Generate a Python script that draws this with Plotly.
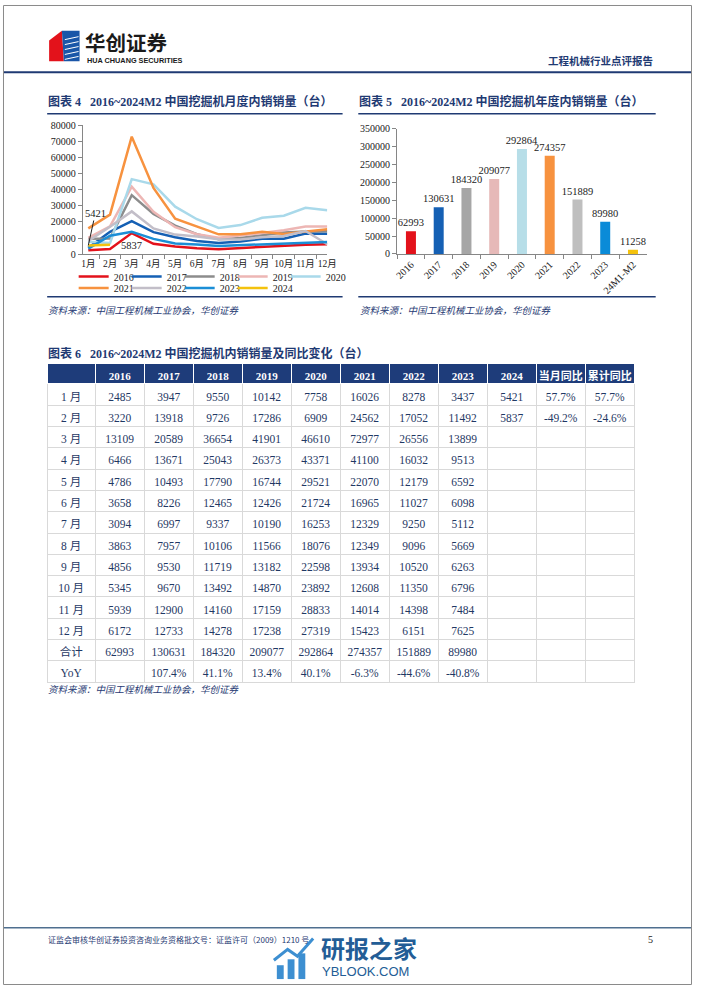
import plotly.graph_objects as go

W, H = 702, 991


def px(x):
    return x / W


def py(y):
    return 1 - y / H


# ---------------- data ----------------
months = ["1月", "2月", "3月", "4月", "5月", "6月", "7月", "8月", "9月", "10月", "11月", "12月"]
years = ["2016", "2017", "2018", "2019", "2020", "2021", "2022", "2023", "2024"]

sales_2016 = [2485, 3220, 13109, 6466, 4786, 3658, 3094, 3863, 4856, 5345, 5939, 6172]
sales_2017 = [3947, 13918, 20589, 13671, 10493, 8226, 6997, 7957, 9530, 9670, 12900, 12733]
sales_2018 = [9550, 9726, 36654, 25043, 17790, 12465, 9337, 10106, 11719, 13492, 14160, 14278]
sales_2019 = [10142, 17286, 41901, 26373, 16744, 12426, 10190, 11566, 13182, 14870, 17159, 17238]
sales_2020 = [7758, 6909, 46610, 43371, 29521, 21724, 16253, 18076, 22598, 23892, 28833, 27319]
sales_2021 = [16026, 24562, 72977, 41100, 22070, 16965, 12329, 12349, 13934, 12608, 14014, 15423]
sales_2022 = [8278, 17052, 26556, 16032, 12179, 11027, 9250, 9096, 10520, 11350, 14398, 6151]
sales_2023 = [3437, 11492, 13899, 9513, 6592, 6098, 5112, 5669, 6263, 6796, 7484, 7625]
sales_2024 = [5421, 5837]

annual_totals = [62993, 130631, 184320, 209077, 292864, 274357, 151889, 89980]
yoy_labels = ["", "107.4%", "41.1%", "13.4%", "40.1%", "-6.3%", "-44.6%", "-40.8%"]
month_yoy_2024 = ["57.7%", "-49.2%"]
cum_yoy_2024 = ["57.7%", "-24.6%"]

bar_categories = ["2016", "2017", "2018", "2019", "2020", "2021", "2022", "2023", "24M1-M2"]
bar_values = [62993, 130631, 184320, 209077, 292864, 274357, 151889, 89980, 11258]

row_labels = ["1 月", "2 月", "3 月", "4 月", "5 月", "6 月", "7 月", "8 月", "9 月",
              "10 月", "11 月", "12 月", "合计", "YoY"]

# ---------------- styles ----------------
line_colors = ["#E3121B", "#1560B4", "#8C8C8C", "#EDB6B4", "#A9D9EA",
               "#F7923F", "#C2BEC8", "#1B8ED6", "#F4C20D"]
bar_colors = ["#E3121B", "#1560B4", "#A6A6A6", "#E6B9B8", "#B7DEE8",
              "#F7923F", "#BFBFBF", "#0A8BD8", "#F4C20D"]
NAVY = "#1F3A73"
SERIF = "Liberation Serif, Noto Sans CJK SC"
CJK = "Noto Sans CJK SC"
AX = "#868686"

fig = go.Figure()

series = [sales_2016, sales_2017, sales_2018, sales_2019, sales_2020,
          sales_2021, sales_2022, sales_2023, sales_2024]
for i, (name, vals) in enumerate(zip(years, series)):
    fig.add_trace(go.Scatter(
        x=months[:len(vals)], y=vals, mode="lines", name=name,
        line=dict(color=line_colors[i], width=2.5),
        xaxis="x", yaxis="y", legend="legend" if i < 5 else "legend2",
        hoverinfo="skip"))
# blank spacer entries so the last legend labels are not clipped
for lg in ["legend", "legend2"]:
    fig.add_trace(go.Scatter(x=[None], y=[None], mode="lines", name=" ",
                             line=dict(color="rgba(0,0,0,0)", width=0),
                             xaxis="x", yaxis="y", legend=lg, hoverinfo="skip"))

fig.add_trace(go.Bar(
    x=bar_categories, y=bar_values, marker=dict(color=bar_colors, line=dict(width=0)),
    text=[str(v) for v in bar_values], textposition="outside", constraintext="none",
    textfont=dict(family=SERIF, size=10.5, color="#222"), cliponaxis=False,
    xaxis="x2", yaxis="y2", showlegend=False, hoverinfo="skip"))

# ---------------- table ----------------
table_cols = [row_labels]
for vals, tot, yoy in zip(series[:8], annual_totals, yoy_labels):
    table_cols.append([str(v) for v in vals] + [str(tot), yoy])
table_cols.append([str(v) for v in sales_2024] + [""] * 12)
table_cols.append(month_yoy_2024 + [""] * 12)
table_cols.append(cum_yoy_2024 + [""] * 12)

header_vals = [""] + years + ["当月同比", "累计同比"]
fig.add_trace(go.Table(
    domain=dict(x=[px(45), px(644)], y=[py(720), py(363)]),
    columnwidth=[49] + [50] * 11,
    header=dict(values=header_vals, fill_color="#1E3C7A", line=dict(color="white", width=1),
                font=dict(family=SERIF, size=11, color="white", weight="bold"), height=20, align="center"),
    cells=dict(values=table_cols, fill_color="white", line=dict(color="#D9D9D9", width=1),
               font=dict(family=SERIF, size=11.5, color="#1F3864"), height=21.3, align="center"),
))

# ---------------- layout ----------------
axis_common = dict(showline=True, linecolor=AX, linewidth=1, ticks="outside", tickcolor=AX,
                   ticklen=4, showgrid=False, zeroline=False)
tf = dict(family=SERIF, size=10, color="#222")

fig.update_layout(
    autosize=True, margin=dict(l=0, r=0, t=0, b=0, pad=0),
    paper_bgcolor="white", plot_bgcolor="white",
    xaxis=dict(domain=[px(81.3), px(330.4)], anchor="y", type="category", tickson="boundaries",
               tickangle=0, tickfont=dict(family=SERIF, size=9.5, color="#222"), **axis_common),
    yaxis=dict(domain=[py(252), py(121.7)], anchor="x", range=[0, 80000], dtick=10000, tickformat="d",
               tickfont=tf, **axis_common),
    xaxis2=dict(domain=[px(401.5), px(656)], anchor="y2", type="category", tickson="boundaries",
                tickangle=-45, tickfont=tf, **axis_common),
    yaxis2=dict(domain=[py(251.7), py(125)], anchor="x2", range=[0, 350000], dtick=50000, tickformat="d",
                tickfont=tf, **axis_common),
    bargap=0.64,
    legend=dict(orientation="h", x=px(72), y=py(260), xanchor="left", yanchor="top",
                entrywidth=8, entrywidthmode="pixels", bgcolor="rgba(0,0,0,0)",
                font=dict(family=SERIF, size=10, color="#222"), tracegroupgap=0),
    legend2=dict(orientation="h", x=px(72), y=py(271.5), xanchor="left", yanchor="top",
                 entrywidth=8, entrywidthmode="pixels", bgcolor="rgba(0,0,0,0)",
                 font=dict(family=SERIF, size=10, color="#222"), tracegroupgap=0),
    showlegend=True,
)

shapes = []
# page border
shapes.append(dict(type="rect", xref="paper", yref="paper", x0=px(0.5), x1=px(701.5), y0=py(990.5), y1=py(0.5),
                   line=dict(color="#8A8A8A", width=1)))
# header line
shapes.append(dict(type="line", xref="paper", yref="paper", x0=px(1), x1=px(701), y0=py(68), y1=py(68),
                   line=dict(color=NAVY, width=2)))
# chart frame lines
for x0, x1 in [(45, 346), (362, 665)]:
    shapes.append(dict(type="line", xref="paper", yref="paper", x0=px(x0), x1=px(x1), y0=py(110), y1=py(110),
                       line=dict(color=NAVY, width=1.5)))
    shapes.append(dict(type="line", xref="paper", yref="paper", x0=px(x0), x1=px(x1), y0=py(295), y1=py(295),
                       line=dict(color=NAVY, width=1.5)))
# footer line
shapes.append(dict(type="line", xref="paper", yref="paper", x0=px(1), x1=px(701), y0=py(933), y1=py(933),
                   line=dict(color="#4F6F8F", width=1.5)))
# logo icon
shapes.append(dict(type="path", xref="paper", yref="paper",
                   path="M %f %f L %f %f L %f %f L %f %f Z" % (px(47), py(36), px(60), py(26), px(62), py(57), px(47), py(57)),
                   fillcolor="#E3121B", line=dict(width=0)))
shapes.append(dict(type="path", xref="paper", yref="paper",
                   path="M %f %f L %f %f L %f %f L %f %f Z" % (px(60), py(26), px(78), py(26), px(78), py(57), px(62), py(57)),
                   fillcolor="#1A56A8", line=dict(width=0)))
for k in range(5):
    yy = 32 + k * 5
    shapes.append(dict(type="line", xref="paper", yref="paper", x0=px(63), x1=px(77), y0=py(yy + 3), y1=py(yy),
                       line=dict(color="white", width=1)))
# watermark icon
for k, (hh) in enumerate([14, 20, 26]):
    xx = 279 + k * 11
    shapes.append(dict(type="rect", xref="paper", yref="paper", x0=px(xx), x1=px(xx + 7), y0=py(985), y1=py(985 - hh),
                       fillcolor="#3D8FD1", line=dict(width=0)))
shapes.append(dict(type="path", xref="paper", yref="paper",
                   path="M %f %f L %f %f L %f %f L %f %f" % (px(276), py(966), px(290), py(955), px(300), py(962), px(316), py(944)),
                   line=dict(color="#3D8FD1", width=3)))
fig.update_layout(shapes=shapes)

ann = []


def text(x, y, s, size, color, family=CJK, xanchor="left", yanchor="middle"):
    ann.append(dict(xref="paper", yref="paper", x=px(x), y=py(y), text=s, showarrow=False,
                    font=dict(family=family, size=size, color=color), xanchor=xanchor, yanchor=yanchor))


text(82, 37, "<b>华创证券</b>", 20.5, "#1A1A1A")
text(84, 56, "<b>HUA CHUANG SECURITIES</b>", 7.3, "#1A1A1A", family="Liberation Sans")
text(664, 56, "<b>工程机械行业点评报告</b>", 10.5, NAVY, xanchor="right")
text(44, 98, "<b>图表 4   2016~2024M2 中国挖掘机月度内销销量（台）</b>", 12, NAVY, family=SERIF)
text(361, 98, "<b>图表 5   2016~2024M2 中国挖掘机年度内销销量（台）</b>", 12, NAVY, family=SERIF)
text(44, 352, "<b>图表 6   2016~2024M2 中国挖掘机内销销量及同比变化（台）</b>", 12, NAVY, family=SERIF)
src = "<i>资料来源：中国工程机械工业协会，华创证券</i>"
text(44, 308, src, 9.5, NAVY)
text(362, 308, src, 9.5, NAVY)
text(44, 692, src, 9.5, NAVY)
text(44, 945, "证监会审核华创证券投资咨询业务资格批文号：证监许可（2009）1210 号", 8, NAVY)
text(664, 945, "5", 10, "#222", family=SERIF, xanchor="right")
text(322, 953, "<b>研报之家</b>", 24, "#235D96")
text(323, 977, "YBLOOK.COM", 13, "#235D96", family="Liberation Sans")

# data point callouts
ann.append(dict(xref="x", yref="y", x=months[0], y=sales_2024[0], text=str(sales_2024[0]), showarrow=True,
                arrowhead=0, arrowwidth=1, arrowcolor="#222", ax=7, ay=-32, standoff=0,
                font=dict(family=SERIF, size=10.5, color="#222")))
ann.append(dict(xref="x", yref="y", x=months[1], y=sales_2024[1], text=str(sales_2024[1]), showarrow=False,
                xshift=21, yshift=-1, font=dict(family=SERIF, size=10.5, color="#222")))

fig.update_layout(annotations=ann)

post = ("document.documentElement.style.margin='0px';document.documentElement.style.overflow='hidden';"
        "document.body.style.margin='0px';document.body.style.overflow='hidden';"
        "var gd=document.getElementById('{plot_id}');gd.style.position='fixed';gd.style.left='0px';"
        "gd.style.top='0px';gd.style.width='100vw';gd.style.height='100vh';Plotly.Plots.resize(gd);")
fig.write_html("out.html", config={"displayModeBar": False, "responsive": True},
               default_width="100vw", default_height="100vh", post_script=post)
